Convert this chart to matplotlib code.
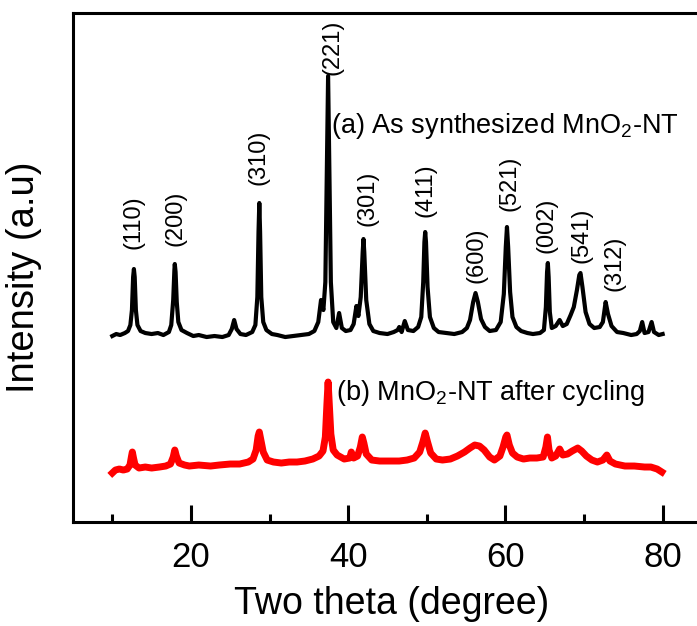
import matplotlib
matplotlib.use("Agg")
from matplotlib import pyplot as plt

plt.rcParams['font.family'] = ['Liberation Sans', 'DejaVu Sans']
plt.rcParams['mathtext.fontset'] = 'custom'
plt.rcParams['mathtext.rm'] = 'Liberation Sans'

# as synthesized MnO2-NT (black)
theta_a = [10.0, 10.5, 11.0, 11.6, 12.0, 12.3, 12.5, 12.65, 12.75, 12.85, 13.0, 13.2, 13.6, 14.2,
           15.0, 15.8, 16.5, 17.2, 17.5, 17.75, 17.9, 17.95, 18.05, 18.2, 18.4, 18.8, 19.5, 20.3,
           21.0, 22.0, 23.0, 24.0, 24.8, 25.2, 25.5, 25.8, 26.3, 27.0, 27.8, 28.2, 28.45, 28.6,
           28.7, 28.8, 28.95, 29.2, 29.6, 30.3, 31.0, 32.0, 33.0, 34.0, 35.0, 35.7, 36.2, 36.55,
           36.85, 37.1, 37.3, 37.45, 37.6, 37.8, 38.1, 38.5, 38.85, 39.2, 39.7, 40.3, 40.7, 41.05,
           41.3, 41.6, 41.85, 41.95, 42.05, 42.3, 42.7, 43.2, 44.0, 45.0, 45.8, 46.3, 46.5, 46.8,
           47.2, 47.6, 48.3, 48.9, 49.3, 49.55, 49.7, 49.8, 49.9, 50.1, 50.4, 50.9, 51.5, 52.5,
           53.5, 54.5, 55.1, 55.5, 55.9, 56.2, 56.5, 56.9, 57.4, 58.0, 58.8, 59.4, 59.8, 60.05,
           60.2, 60.35, 60.6, 60.9, 61.4, 62.0, 62.8, 63.5, 64.4, 64.9, 65.15, 65.3, 65.4, 65.5,
           65.65, 65.9, 66.4, 66.9, 67.3, 67.8, 68.3, 68.7, 69.1, 69.4, 69.55, 69.8, 70.2, 70.7,
           71.3, 72.0, 72.4, 72.75, 73.05, 73.5, 74.2, 75.0, 76.0, 76.7, 77.1, 77.4, 77.7, 78.2,
           78.6, 78.9, 79.5, 80.0]
int_a = [186, 188, 187, 189, 191, 197, 212, 245, 253, 245, 212, 197, 191, 189,
         188, 189, 187, 190, 197, 222, 252, 258, 250, 220, 200, 192, 189, 186,
         187, 185, 186, 185, 187, 193, 202, 193, 188, 187, 190, 197, 225, 290,
         319, 290, 225, 200, 192, 188, 187, 185, 186, 187, 188, 191, 200, 222,
         212, 240, 360, 446, 360, 240, 200, 194, 209, 194, 191, 192, 198, 216,
         206, 225, 270, 283, 270, 222, 198, 191, 189, 188, 190, 192, 195, 190,
         201, 192, 191, 195, 205, 240, 280, 290, 280, 235, 205, 194, 190, 189,
         188, 190, 194, 202, 220, 229, 220, 203, 195, 191, 192, 200, 228, 275,
         295, 275, 230, 205, 195, 191, 189, 188, 189, 192, 215, 250, 259, 245,
         210, 194, 196, 202, 196, 198, 207, 215, 232, 247, 249, 235, 210, 198,
         194, 195, 200, 220, 208, 196, 190, 189, 187, 188, 191, 200, 189, 190,
         200, 190, 187, 188]

# MnO2-NT after cycling (red)
theta_b = [10.0, 10.4, 10.9, 11.4, 11.9, 12.25, 12.45, 12.55, 12.7, 12.9, 13.4, 14.2, 15.0, 16.0,
           16.8, 17.4, 17.75, 17.95, 18.15, 18.5, 19.2, 19.8, 21.0, 22.5, 23.6, 25.0, 26.2, 27.3,
           27.9, 28.3, 28.55, 28.7, 28.9, 29.2, 29.7, 30.5, 31.5, 32.5, 33.5, 34.5, 35.5, 36.3,
           36.8, 37.1, 37.3, 37.45, 37.6, 37.8, 38.1, 38.6, 39.5, 40.2, 40.4, 40.7, 41.2, 41.55,
           41.8, 42.0, 42.3, 43.0, 44.0, 45.5, 46.5, 47.5, 48.4, 49.1, 49.5, 49.8, 50.1, 50.5,
           51.2, 52.0, 53.0, 53.9, 54.8, 55.5, 56.1, 56.7, 57.3, 58.0, 58.6, 59.3, 59.7, 60.05,
           60.2, 60.5, 60.9, 61.5, 62.3, 63.1, 64.0, 64.8, 65.15, 65.35, 65.55, 65.9, 66.4, 66.9,
           67.3, 67.9, 68.5, 69.2, 69.7, 70.3, 71.0, 71.7, 72.4, 72.9, 73.3, 74.0, 75.2, 76.4,
           77.7, 78.5, 79.3, 79.9]
int_b = [49, 52, 53, 52, 53, 57, 66, 70, 64, 57, 54, 55, 54, 55,
         56, 58, 65, 72, 66, 59, 57, 56, 57, 56, 57, 58, 58, 60,
         63, 72, 86, 90, 82, 70, 62, 60, 59, 60, 60, 61, 63, 66,
         71, 85, 118, 140, 118, 88, 72, 67, 63, 64, 70, 64, 66, 75,
         85, 79, 68, 62, 61, 61, 61, 62, 64, 70, 80, 89, 80, 69,
         63, 62, 63, 66, 70, 74, 77, 76, 72, 65, 62, 66, 75, 85,
         87, 77, 69, 65, 63, 64, 64, 65, 75, 85, 72, 64, 66, 73,
         67, 68, 71, 74, 71, 66, 62, 60, 62, 67, 61, 58, 56, 56,
         55, 55, 53, 50]

hkl = ['(110)', '(200)', '(310)', '(221)', '(301)', '(411)', '(600)', '(521)', '(002)', '(541)', '(312)']
hkl_x = [12.67, 18.0, 28.6, 38.0, 42.45, 49.9, 56.3, 60.5, 65.25, 69.7, 73.9]
hkl_y = [300, 304, 365, 475, 324, 332, 267, 339, 297, 287, 259]

fig = plt.figure(figsize=(6.97, 6.26), dpi=100)
ax = fig.add_axes([0.1047, 0.1661, 0.9024, 0.8131])

ax.plot(theta_b, int_b, color='red', lw=5.0, solid_joinstyle='round')
ax.plot(theta_a, int_a, color='black', lw=3.0, solid_joinstyle='round')

for lab, x, y in zip(hkl, hkl_x, hkl_y):
    ax.text(x, y, lab, rotation=90, ha='center', va='center', fontsize=17)

ax.text(37.8, 389, r'(a) As synthesized MnO$_\mathregular{2}$-NT', fontsize=19.5, va='baseline')
ax.text(38.4, 122, r'(b) MnO$_\mathregular{2}$-NT after cycling', fontsize=19.5, va='baseline')

ax.set_xlim(5, 85)
ax.set_ylim(0, 509)
ax.set_xticks([20, 40, 60, 80])
ax.set_xticks([10, 30, 50, 70], minor=True)
ax.set_yticks([])
ax.tick_params(axis='x', which='major', direction='in', length=12, width=2.2, labelsize=25, pad=14)
ax.tick_params(axis='x', which='minor', direction='in', length=6, width=2.2)
for s in ax.spines.values():
    s.set_linewidth(2.2)

ax.set_xlabel('Two theta (degree)', fontsize=27)
ax.set_ylabel('Intensity (a.u)', fontsize=27.5)
ax.xaxis.set_label_coords(0.507, -0.126)
ax.yaxis.set_label_coords(-0.049, 0.481)

fig.savefig('out.png', dpi=100)
